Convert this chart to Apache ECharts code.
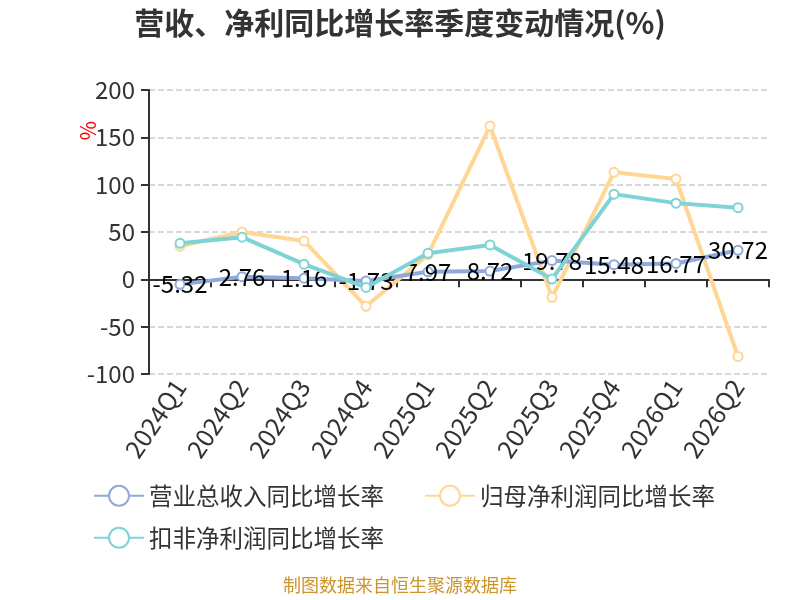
<!DOCTYPE html>
<html>
<head>
<meta charset="utf-8">
<script src="https://cdn.jsdelivr.net/npm/echarts@6/dist/echarts.min.js"></script>
<style>html,body{margin:0;padding:0;background:#fff}#c{width:800px;height:600px}</style>
</head>
<body>
<div id="c"></div>
<script>
var categories = ['2024Q1','2024Q2','2024Q3','2024Q4','2025Q1','2025Q2','2025Q3','2025Q4','2026Q1','2026Q2'];
var revenueGrowth = [-5.32, 2.76, 1.16, -1.73, 7.97, 8.72, 19.78, 15.48, 16.77, 30.72];
var netProfitGrowth = [35, 50, 40.5, -28.5, 26, 162, -19, 113, 106, -81.5];
var deductedProfitGrowth = [38, 44.5, 16, -8.5, 27.5, 36.3, 0.3, 90, 80.5, 75.7];
var seriesNames = ['营业总收入同比增长率', '归母净利润同比增长率', '扣非净利润同比增长率'];
var yTicks = {min: -100, max: 200, interval: 50};

var FONT = '"Noto Sans CJK SC", "Noto Sans", sans-serif';
var legendBase = {
  left: 88, itemWidth: 50, itemHeight: 25, itemGap: 40,
  textStyle: {fontSize: 23.5, color: '#333', fontFamily: FONT}
};
var chart = echarts.init(document.getElementById('c'));
chart.setOption({
  backgroundColor: '#fff',
  textStyle: {fontFamily: FONT},
  title: {
    text: '营收、净利同比增长率季度变动情况(%)',
    left: 'center', top: 3,
    textStyle: {fontSize: 30, fontWeight: 'bold', color: '#333', fontFamily: FONT}
  },
  legend: [
    Object.assign({}, legendBase, {top: 479, data: [seriesNames[0], seriesNames[1]]}),
    Object.assign({}, legendBase, {top: 521, data: [seriesNames[2]]})
  ],
  grid: {left: 149, right: 31, top: 90, bottom: 226, containLabel: false},
  xAxis: {
    type: 'category',
    data: categories,
    boundaryGap: true,
    axisLine: {onZero: true, lineStyle: {color: '#333', width: 2}},
    axisTick: {show: true, length: 8, lineStyle: {color: '#333', width: 2}},
    axisLabel: {rotate: 56, fontSize: 25, color: '#333', margin: 8, fontFamily: FONT}
  },
  yAxis: {
    type: 'value',
    min: yTicks.min, max: yTicks.max, interval: yTicks.interval,
    axisLine: {show: true, lineStyle: {color: '#333', width: 2}},
    axisTick: {show: true, length: 8, lineStyle: {color: '#333', width: 2}},
    axisLabel: {fontSize: 24, color: '#333', margin: 14, fontFamily: FONT},
    splitLine: {lineStyle: {color: '#ccc', type: 'dashed', width: 1.5}}
  },
  graphic: [
    {type: 'text', left: 78, top: 121, rotation: Math.PI / 2,
     style: {text: '%', fill: 'red', fontSize: 21, fontFamily: FONT}},
    {type: 'text', left: 'center', top: 576,
     style: {text: '制图数据来自恒生聚源数据库', fill: '#c9952c', fontSize: 18, fontFamily: FONT}}
  ],
  series: [
    {
      name: seriesNames[0], type: 'line', data: revenueGrowth,
      symbol: 'emptyCircle', symbolSize: 9,
      lineStyle: {width: 4, color: '#8eaadc'},
      itemStyle: {color: '#8eaadc', borderWidth: 2},
      label: {show: true, position: 'inside', fontSize: 24, color: '#000', fontFamily: FONT},
      z: 3
    },
    {
      name: seriesNames[1], type: 'line', data: netProfitGrowth,
      symbol: 'emptyCircle', symbolSize: 9,
      lineStyle: {width: 4, color: '#ffd693'},
      itemStyle: {color: '#ffd693', borderWidth: 2},
      z: 2
    },
    {
      name: seriesNames[2], type: 'line', data: deductedProfitGrowth,
      symbol: 'emptyCircle', symbolSize: 9,
      lineStyle: {width: 4, color: '#7ed3d6'},
      itemStyle: {color: '#7ed3d6', borderWidth: 2},
      z: 4
    }
  ]
});
</script>
</body>
</html>
